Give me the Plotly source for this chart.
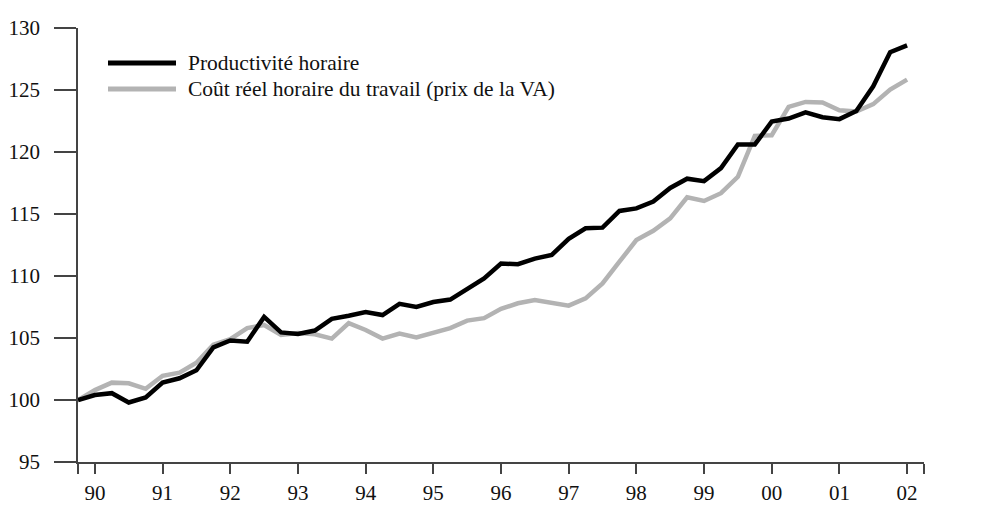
import plotly.graph_objects as go

# Quarterly data, 1990Q1 .. 2002Q2 (index 0..49)
quarters = list(range(50))
productivite = [100.0, 100.4, 100.55, 99.8, 100.2, 101.4, 101.75, 102.4, 104.25, 104.8,
                104.7, 106.7, 105.45, 105.33, 105.6, 106.55, 106.8, 107.1, 106.85, 107.75,
                107.5, 107.9, 108.1, 108.9, 109.8, 111.0, 110.95, 111.4, 111.7, 113.0,
                113.85, 113.9, 115.25, 115.45, 116.0, 117.1, 117.85, 117.65, 118.7, 120.6,
                120.6, 122.45, 122.7, 123.2, 122.8, 122.65, 123.3, 125.3, 128.05, 128.6]
cout_reel = [100.0, 100.8, 101.4, 101.35, 100.9, 101.95, 102.2, 103.0, 104.45, 104.9,
             105.8, 106.05, 105.25, 105.4, 105.3, 104.95, 106.2, 105.65, 104.95, 105.35,
             105.05, 105.4, 105.8, 106.4, 106.6, 107.35, 107.8, 108.07, 107.86, 107.61,
             108.2, 109.4, 111.15, 112.9, 113.65, 114.65, 116.35, 116.05, 116.68, 118.0,
             121.3, 121.35, 123.64, 124.04, 124.0, 123.37, 123.27, 123.86, 125.04, 125.84]
year_labels = ['90', '91', '92', '93', '94', '95', '96', '97', '98', '99', '00', '01', '02']
year_tick_pos = [1 + 4 * k for k in range(len(year_labels))]
y_ticks = [95, 100, 105, 110, 115, 120, 125, 130]
series_names = ["Productivité horaire", "Coût réel horaire du travail (prix de la VA)"]
series_colors = ["#000000", "#b3b3b3"]

FONT = "Liberation Serif"
AX = "#444444"
TS = 21

fig = go.Figure()
fig.add_trace(go.Scatter(x=quarters, y=cout_reel, mode="lines", name=series_names[1],
                         line=dict(color=series_colors[1], width=4.5), showlegend=False))
fig.add_trace(go.Scatter(x=quarters, y=productivite, mode="lines", name=series_names[0],
                         line=dict(color=series_colors[0], width=4.5), showlegend=False))

tickvals = [0] + year_tick_pos + [50]
ticktext = [""] + year_labels + [""]

fig.update_layout(
    width=986, height=497,
    margin=dict(l=70, r=70, t=20, b=43),
    paper_bgcolor="white", plot_bgcolor="white",
    font=dict(family=FONT, size=TS, color="#111111"),
    xaxis=dict(range=[0, 50], tickvals=tickvals, ticktext=ticktext, automargin=False,
               ticks="outside", ticklen=10, tickwidth=1.5, tickcolor=AX,
               showline=True, linecolor=AX, linewidth=1.5, showgrid=False, zeroline=False,
               ticklabelstandoff=1, tickfont=dict(family=FONT, size=TS)),
    yaxis=dict(range=[95, 130], tickvals=y_ticks, ticks="outside", ticklen=22, automargin=False,
               tickwidth=1.5, tickcolor=AX, showline=True, linecolor=AX, linewidth=1.5,
               showgrid=False, zeroline=False, ticklabelstandoff=10,
               tickfont=dict(family=FONT, size=TS)),
    yaxis2=dict(range=[95, 130], tickvals=y_ticks, ticks="outside", ticklen=22, automargin=False,
                tickwidth=1.5, tickcolor=AX, showline=True, linecolor=AX, linewidth=1.5,
                showgrid=False, zeroline=False, overlaying="y", side="right",
                ticklabelstandoff=8, tickfont=dict(family=FONT, size=TS)),
)

# Manual legend (decoration, paper coordinates)
PW = 846.0
PH = 434.6
legend_rows = [(35 / PH, series_colors[0], series_names[0]),
               (61 / PH, series_colors[1], series_names[1])]
for frac, col, name in legend_rows:
    fig.add_shape(type="line", xref="paper", yref="paper",
                  x0=(108 - 78) / PW, x1=(176 - 78) / PW,
                  y0=1 - frac, y1=1 - frac,
                  line=dict(color=col, width=5))
    fig.add_annotation(xref="paper", yref="paper", x=(186 - 78) / PW, y=1 - frac,
                       text=name, showarrow=False, xanchor="left", yanchor="middle",
                       font=dict(family=FONT, size=21.5, color="#111111"))

fig.write_html("out.html")
